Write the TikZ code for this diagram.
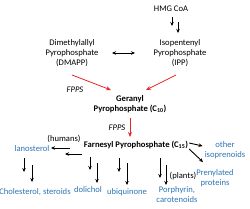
\documentclass[tikz,border=0pt]{standalone}
\usepackage{fontspec}
\setmainfont{Carlito}
\usepackage{xcolor}
\definecolor{colBlue}{HTML}{2E75B6}
\definecolor{colRed}{HTML}{E8262A}
\usepackage{tikz}
\usetikzlibrary{arrows.meta, positioning, calc}
\tikzset{
    chem/.style={
        align=center,
        inner sep=0pt,
        font=\fontsize{8.6}{10}\selectfont
    },
    product/.style={chem, text=colBlue},
    enzyme/.style={chem, font=\fontsize{8.6}{10}\selectfont\itshape},
    blkarrow/.style={-{Stealth[length=4pt,width=3.5pt]}, line width=0.9pt, color=black},
    redarrow/.style={-{Stealth[length=5pt,width=4pt]}, line width=0.8pt, color=colRed},
}

\begin{document}
\begin{tikzpicture}[x=1pt, y=-1pt]
        \useasboundingbox (0,0) rectangle (250,209);
        % upstream precursors
        \node[chem] (hmg) at (171,9) {HMG CoA};
        \node[chem] (dmapp) at (72,53) {Dimethylallyl\\Pyrophosphate\\(DMAPP)};
        \node[chem] (ipp) at (180,53) {Isopentenyl\\Pyrophosphate\\(IPP)};
        \node[chem, font=\fontsize{8.6}{10.5}\selectfont\bfseries] (gpp) at (130,104)
              {Geranyl\\Pyrophosphate (C\textsubscript{10})};
        \node[chem, font=\fontsize{8.6}{10}\selectfont\bfseries] (fpp) at (136,145)
              {Farnesyl Pyrophosphate (C\textsubscript{15})};
        \node[enzyme] (fpps1) at (75,90) {FPPS};
        \node[enzyme] (fpps2) at (117,128) {FPPS};
        % downstream products
        \node[product] (lano) at (32,149) {lanosterol};
        \node[product] (chol) at (35,192) {Cholesterol, steroids};
        \node[product] (dol) at (88,190) {dolichol};
        \node[product] (ubi) at (127,192) {ubiquinone};
        \node[product] (porph) at (177,195) {Porphyrin,\\carotenoids};
        \node[product] (other) at (225,150) {other\\isoprenoids};
        \node[product] (prenyl) at (215,178) {Prenylated\\proteins};
        \node[chem] (humans) at (64,139) {(humans)};
        \node[chem] (plants) at (183,176) {(plants)};
        % multi-step arrows
        \draw[blkarrow] ($(hmg)+(1,8)$) -- ($(hmg)+(1,17)$);
        \draw[blkarrow] ($(hmg)+(7,13)$) -- ($(hmg)+(7,24)$);
        \draw[{Stealth[length=4pt,width=3.5pt]}-{Stealth[length=4pt,width=3.5pt]}, line width=0.9pt]
              ($(dmapp)+(40,0)$) -- ($(ipp)+(-45,0)$);
        \draw[redarrow] ($(dmapp)+(0,22)$) -- ($(gpp)+(-19,-14)$);
        \draw[redarrow] ($(ipp)+(-4,22)$) -- ($(gpp)+(16,-14)$);
        \draw[redarrow] ($(gpp)+(0,14)$) -- ($(fpp)+(-6,-8)$);
        \draw[blkarrow] ($(fpp)+(-66,3)$) -- ($(fpp)+(-85,3)$);
        \draw[blkarrow] ($(fpp)+(-54,9)$) -- ($(fpp)+(-71,9)$);
        \draw[blkarrow] ($(lano)+(-8,9)$) -- ($(lano)+(-8,23)$);
        \draw[blkarrow] ($(lano)+(0,16)$) -- ($(lano)+(0,33)$);
        \draw[blkarrow] ($(dol)+(2,-33)$) -- ($(dol)+(2,-20)$);
        \draw[blkarrow] ($(dol)+(9,-27)$) -- ($(dol)+(9,-7)$);
        \draw[blkarrow] ($(ubi)+(-8,-34)$) -- ($(ubi)+(-8,-20)$);
        \draw[blkarrow] ($(ubi)+(0,-29)$) -- ($(ubi)+(0,-7)$);
        \draw[blkarrow] ($(porph)+(-17,-37)$) -- ($(porph)+(-17,-17)$);
        \draw[blkarrow] ($(porph)+(-11,-30)$) -- ($(porph)+(-11,-10)$);
        \draw[blkarrow] ($(fpp.east)+(1,-2)$) -- ($(other.west)+(-2,-4)$);
        \draw[blkarrow] ($(fpp.east)+(1,4)$) -- ($(prenyl.north)+(-12,-7)$);
\end{tikzpicture}
\end{document}
